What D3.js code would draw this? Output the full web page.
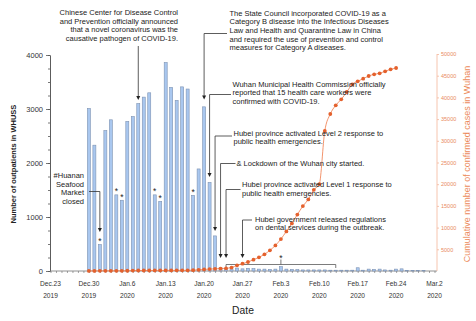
<!DOCTYPE html>
<html lang="en">
<head>
    <meta charset="utf-8">
    <title>Outpatients in WHUSS and COVID-19 cases in Wuhan</title>
    <script src="https://d3js.org/d3.v7.min.js" charset="utf-8"></script>
    <style>
        body { margin: 0; background: #fff; }
        text { font-family: "Liberation Sans", Arial, sans-serif; }
    </style>
</head>
<body>

    <script>

    // daily outpatients in WHUSS, one value per day from Dec.30
    var outpatientStart = "2019-12-30"
    var outpatients = [
        3010, 2330, 490, 2600, 2800, 1410, 1310,
        2770, 2860, 3100, 3220, 3300, 1410, 1290,
        3860, 3400, 3160, 3410, 3370, 1400, 1890,
        3040, 1640, 650, 60, 45, 40, 55,
        40, 50, 45, 35, 35, 30, 35,
        80, 35, 30, 25, 20, 20, 20,
        20, 20, 15, 15, 15, 15, 15,
        60, 15, 35, 30, 35, 20, 15,
        35, 40, 10, 10, 10, 10
    ]

    // cumulative confirmed cases in Wuhan, one value per day from Dec.30
    var casesStart = "2019-12-30"
    var cases = [
        27, 27, 30, 35, 40, 45, 50,
        55, 100, 110, 115, 120, 125, 130,
        135, 140, 145, 150, 160, 200, 260,
        360, 440, 500, 570, 620, 800, 1300,
        1680, 2070, 2600, 3150, 3840, 4760, 5900,
        7360, 9130, 10970, 13000, 14950, 16500, 18700,
        20000, 32260, 36170, 38180, 39560, 41240, 43020,
        43710, 44310, 44930, 45320, 45550, 46010, 46470,
        46770
    ]

    var starredDays = ["2020-01-01", "2020-01-04", "2020-01-05", "2020-01-11", "2020-01-12", "2020-01-18"]

    var weekDays = ["2019-12-23", "2019-12-30", "2020-01-06", "2020-01-13", "2020-01-20", "2020-01-27",
                    "2020-02-03", "2020-02-10", "2020-02-17", "2020-02-24", "2020-03-02"]
    var weekLabels = ["Dec.23", "Dec.30", "Jan.6", "Jan.13", "Jan.20", "Jan.27",
                      "Feb.3", "Feb.10", "Feb.17", "Feb.24", "Mar.2"]
    var weekYears = ["2019", "2019", "2020", "2020", "2020", "2020",
                     "2020", "2020", "2020", "2020", "2020"]

    var notes = [
        {lines: ["Chinese Center for Disease Control", "and Prevention officially announced",
                 "that a novel coronavirus was the", "causative pathogen of COVID-19."],
         tx: 178, ty: 15, anchor: "end", day: "2020-01-08", sx: null, sy: 46, tip: 100},
        {lines: ["The State Council incorporated COVID-19 as a", "Category B disease into the Infectious Diseases",
                 "Law and Health and Quarantine Law in China", "and required the use of prevention and control",
                 "measures for Category A diseases."],
         tx: 229.5, ty: 15.5, anchor: "start", day: "2020-01-20", sx: 227, sy: 33.5, tip: 99.5},
        {lines: ["Wuhan Municipal Health Commission officially", "reported that 15 health care workers were",
                 "confirmed with COVID-19."],
         tx: 232.5, ty: 86.5, anchor: "start", day: "2020-01-21", sx: 231, sy: 94.5, tip: 177},
        {lines: ["Hubei province activated Level 2 response to", "public health emergencies."],
         tx: 233.5, ty: 135.5, anchor: "start", day: "2020-01-22", sx: 232, sy: 136, tip: 231},
        {lines: ["& Lockdown of the Wuhan city started."],
         tx: 236.5, ty: 166, anchor: "start", day: "2020-01-23", sx: 235.5, sy: 163.5, tip: 258},
        {lines: ["Hubei province activated Level 1 response to", "public health emergencies."],
         tx: 242, ty: 187, anchor: "start", day: "2020-01-24", sx: 240.5, sy: 189.5, tip: 258},
        {lines: ["Hubei government released regulations", "on dental services during the outbreak."],
         tx: 255, ty: 221.5, anchor: "start", day: "2020-01-27", sx: 252, sy: 220, tip: 258},
        {lines: ["#Huanan", "Seafood", "Market", "closed"],
         tx: 84, ty: 178, anchor: "end", day: "2020-01-01", sx: 89, sy: 191.5, tip: 232}
    ]

    var w = 476
    var h = 321
    var parse = d3.utcParse("%Y-%m-%d")

    var xScale = d3.scaleUtc().domain([parse("2019-12-23"), parse("2020-03-02")]).range([50.5, 434.5])
    var yScale = d3.scaleLinear().domain([0, 4000]).range([271, 55])
    var yScale2 = d3.scaleLinear().domain([0, 50000]).range([271, 54])

    var barData = outpatients.map(function(v, i) {
        return {day: d3.utcDay.offset(parse(outpatientStart), i), value: v}
    })
    var caseData = cases.map(function(v, i) {
        return {day: d3.utcDay.offset(parse(casesStart), i), value: v}
    })

    var svg = d3.select("body").append("svg").attr("width", w).attr("height", h)

    // left axis: labelled ticks every 1000, minor every 250
    var left = svg.append("g").attr("transform", "translate(50,0)")
    left.call(d3.axisLeft(yScale).tickValues(d3.range(0, 4001, 250)).tickSize(2).tickSizeOuter(0).tickFormat(""))
    left.append("g").call(d3.axisLeft(yScale).tickValues(d3.range(0, 4001, 1000)).tickSize(4).tickSizeOuter(0).tickFormat(d3.format("d")))
    left.selectAll("path, line").attr("stroke", "#555").attr("stroke-width", 0.8)
    left.selectAll("text").attr("font-size", 7.5).attr("fill", "#333").attr("font-family", "Liberation Sans, Arial, sans-serif")

    // bottom axis with a tick for every day
    var bottom = svg.append("g").attr("transform", "translate(0,271)")
    bottom.call(d3.axisBottom(xScale).ticks(d3.utcDay.every(1)).tickSize(2).tickSizeOuter(0).tickFormat(""))
    bottom.select(".domain").remove()
    bottom.selectAll("line").attr("stroke", "#666").attr("stroke-width", 0.6)
    svg.append("line").attr("x1", 50).attr("x2", 437).attr("y1", 271).attr("y2", 271)
        .attr("stroke", "#777").attr("stroke-width", 0.8)

    weekDays.forEach(function(d, i) {
        var g = svg.append("g").attr("transform", "translate(" + xScale(parse(d)) + ",0)")
        g.append("text").attr("y", 286).attr("text-anchor", "middle").attr("font-size", 6.6).attr("fill", "#333").text(weekLabels[i])
        g.append("text").attr("y", 298).attr("text-anchor", "middle").attr("font-size", 6.6).attr("fill", "#333").text(weekYears[i])
    })

    // right axis for the cumulative cases
    var right = svg.append("g").attr("transform", "translate(437,0)")
    right.call(d3.axisRight(yScale2).tickValues(d3.range(5000, 50001, 5000)).tickSize(2).tickSizeOuter(0).tickPadding(2).tickFormat(d3.format("d")))
    right.select(".domain").attr("d", "M0," + yScale2(50000) + "V" + yScale2(0))
    right.selectAll("path, line").attr("stroke", "#f5bea6").attr("stroke-width", 0.9)
    right.selectAll("text").attr("font-size", 5.5).attr("fill", "#e98a5e").attr("font-family", "Liberation Sans, Arial, sans-serif")

    // axis titles
    svg.append("text").attr("transform", "translate(16,164) rotate(-90)").attr("text-anchor", "middle")
        .attr("font-size", 7.5).attr("font-weight", "bold").attr("fill", "#222").text("Number of outpatients in WHUSS")
    svg.append("text").attr("transform", "translate(470,164) rotate(-90)").attr("text-anchor", "middle")
        .attr("font-size", 9).attr("fill", "#ec8a5a").text("Cumulative number of confirmed cases in Wuhan")
    svg.append("text").attr("x", 243).attr("y", 314).attr("text-anchor", "middle")
        .attr("font-size", 10.3).attr("fill", "#222").text("Date")

    // outpatient bars
    svg.append("g").selectAll("rect").data(barData).enter().append("rect")
        .attr("x", function(d) { return xScale(d.day) - 1.5 })
        .attr("width", 3)
        .attr("y", function(d) { return yScale(d.value) })
        .attr("height", function(d) { return yScale(0) - yScale(d.value) })
        .attr("fill", "#a9c7ef")
        .attr("stroke", "#7d92b2")
        .attr("stroke-width", 0.6)

    // stars over the weekend / holiday bars
    svg.append("g").selectAll("text").data(barData.filter(function(d) {
            return starredDays.indexOf(d3.utcFormat("%Y-%m-%d")(d.day)) >= 0
        })).enter().append("text")
        .attr("x", function(d) { return xScale(d.day) })
        .attr("y", function(d) { return yScale(d.value) - 0.5 })
        .attr("text-anchor", "middle").attr("font-size", 8.5).attr("fill", "#222").text("*")

    // bracket over the outbreak period with its star
    var b0 = xScale(parse("2020-01-24")), b1 = xScale(parse("2020-02-13")), bm = xScale(parse("2020-02-03"))
    svg.append("path").attr("d", "M" + b0 + ",268V264.5H" + b1 + "V268M" + bm + ",264.5V259.5")
        .attr("fill", "none").attr("stroke", "#444").attr("stroke-width", 0.7)
    svg.append("text").attr("x", bm).attr("y", 261).attr("text-anchor", "middle").attr("font-size", 8.5).attr("fill", "#222").text("*")

    // cumulative cases line
    var line = d3.line()
        .x(function(d) { return xScale(d.day) })
        .y(function(d) { return yScale2(d.value) })
        .curve(d3.curveMonotoneX)

    svg.append("path").datum(caseData).attr("d", line).attr("fill", "none").attr("stroke", "#f0885c").attr("stroke-width", 0.9)
    svg.append("g").selectAll("circle").data(caseData).enter().append("circle")
        .attr("cx", function(d) { return xScale(d.day) })
        .attr("cy", function(d) { return yScale2(d.value) })
        .attr("r", 1.9)
        .attr("fill", "#e4612d")

    // event annotations with elbow arrows
    notes.forEach(function(n) {
        var ax = xScale(parse(n.day))
        var t = svg.append("text").attr("x", n.tx).attr("y", n.ty).attr("text-anchor", n.anchor)
            .attr("font-size", 7.5).attr("fill", "#222")
        n.lines.forEach(function(s, i) {
            t.append("tspan").attr("x", n.tx).attr("y", n.ty + i * 8.7).text(s)
        })
        var d = n.sx === null ? "M" + ax + "," + n.sy : "M" + n.sx + "," + n.sy + "H" + ax
        svg.append("path").attr("d", d + "V" + (n.tip - 3.5))
            .attr("fill", "none").attr("stroke", "#333").attr("stroke-width", 0.8)
        svg.append("path").attr("d", "M" + (ax - 2) + "," + (n.tip - 4) + "L" + (ax + 2) + "," + (n.tip - 4) + "L" + ax + "," + n.tip + "Z")
            .attr("fill", "#222")
    })

    </script>

</body>
</html>
